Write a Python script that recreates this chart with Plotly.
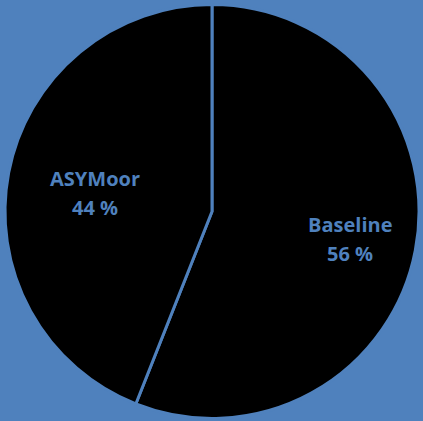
import plotly.graph_objects as go

labels = ["Baseline", "ASYMoor"]
values = [56, 44]
blue = "#4F81BD"

fig = go.Figure(go.Pie(
    labels=labels, values=values, sort=False, direction="clockwise", rotation=0,
    marker=dict(colors=["#000000", "#000000"], line=dict(color=blue, width=3)),
    textinfo="none", hoverinfo="label+percent", showlegend=False,
    domain=dict(x=[5/423, 419/423], y=[2/421, 417/421]),
))

pos = {"Baseline": (350, 224), "ASYMoor": (95, 178)}
for lab, v in zip(labels, values):
    px, py = pos[lab]
    for i, t in enumerate([lab, f"{v} %"]):
        fig.add_annotation(x=px/423, y=1 - (py + 29*i)/421, xref="paper", yref="paper",
                           showarrow=False, xanchor="center", yanchor="middle",
                           text=f"<b>{t}</b>",
                           font=dict(family="Open Sans", size=20, color=blue))

fig.update_layout(width=423, height=421, margin=dict(l=0, r=0, t=0, b=0),
                  paper_bgcolor=blue, plot_bgcolor=blue)
fig.write_html("out.html")
